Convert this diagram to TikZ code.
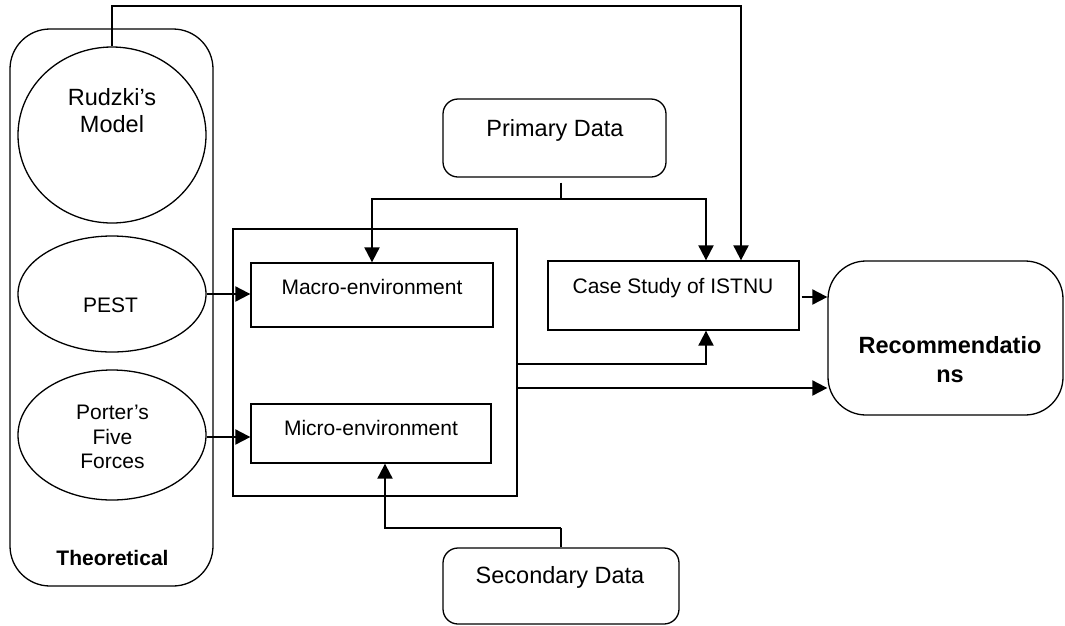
\documentclass[tikz,border=0pt]{standalone}
\usepackage{fontspec}
\setmainfont{Liberation Sans}
\usetikzlibrary{shapes.geometric,arrows.meta}
\begin{document}
\begin{tikzpicture}[x=1pt,y=-1pt,
  shp/.style={draw, line width=1.3pt, inner sep=0pt},
  rbox/.style={shp, rectangle},
  rrbox/.style={shp, rectangle, rounded corners=#1},
  ell/.style={shp, ellipse},
  txt/.style={font=\fontsize{21}{24.5}\selectfont, align=center, inner sep=0pt},
  bigtxt/.style={font=\fontsize{23.5}{27}\selectfont, align=center, inner sep=0pt},
  boldtxt/.style={font=\bfseries\fontsize{21}{29}\selectfont, align=center, inner sep=0pt},
  recomtxt/.style={font=\bfseries\fontsize{23.5}{29}\selectfont, align=center, inner sep=0pt},
  arr/.style={line width=2pt, -{Triangle[length=15pt,width=15pt]}},
  ln/.style={line width=1.3pt}]
\useasboundingbox (0,0) rectangle (1065,625);

% theoretical column
\node[rrbox=40pt, minimum width=203pt, minimum height=557pt] (theory) at (111.5,307.5) {};
\node[ell, minimum width=188pt, minimum height=176pt] (rudzki) at (112,135) {};
\node[ell, minimum width=188pt, minimum height=116pt] (pest) at (112,294) {};
\node[ell, minimum width=188pt, minimum height=130pt] (porter) at (112,435) {};
\node[bigtxt] (rudzkit) at (112,111) {Rudzki’s\\Model};
\node[txt, anchor=base] (pestt) at (110.5,312) {PEST};
\node[txt] (portert) at (112.5,437) {Porter’s\\Five\\Forces};
\node[boldtxt, anchor=base] (theoryt) at (112.5,565) {Theoretical};

% environment
\node[rbox, minimum width=284pt, minimum height=267pt] (env) at (375,362.5) {};
\node[rbox, minimum width=242pt, minimum height=64pt] (macro) at (372,295) {};
\node[rbox, minimum width=240pt, minimum height=59pt] (micro) at (371,433.5) {};
\node[txt, anchor=base] (macrot) at (372,294) {Macro-environment};
\node[txt, anchor=base] (microt) at (371,435) {Micro-environment};

% data sources
\node[rrbox=15pt, minimum width=223pt, minimum height=78pt] (primary) at (554.5,138) {};
\node[bigtxt, anchor=base] (primaryt) at (555,136) {Primary Data};
\node[rrbox=15pt, minimum width=236pt, minimum height=76pt] (secondary) at (561,586) {};
\node[bigtxt, anchor=base] (secondaryt) at (560,583) {Secondary Data};

% case study and recommendations
\node[rbox, minimum width=251pt, minimum height=69pt] (case) at (673.5,295.5) {};
\node[txt, anchor=base] (caset) at (673,293) {Case Study of ISTNU};
\node[rrbox=38pt, minimum width=235pt, minimum height=154pt] (recom) at (945.5,338) {};
\node[recomtxt] (recomt) at (950,360) {Recommendatio\\ns};

% connectors
\coordinate (topR) at (741,6);
\draw[arr] (rudzki.north) |- (topR) -- (topR |- case.north);

\coordinate (pj) at (561,199);
\draw[ln] ([yshift=-5pt]pj |- primary.south) -- (pj);
\draw[arr] (pj) -| (macro.north);
\draw[arr] (pj) -| ([xshift=32.5pt]case.north);

\draw[arr] (pest.east) -- (pest.east -| macro.west);
\draw[arr] ([yshift=-2pt]porter.east) -- ([yshift=-2pt]porter.east -| micro.west);

\draw[arr] ([yshift=-1.5pt]env.east) -| ([xshift=32.5pt]case.south);
\coordinate (e2) at ([yshift=-25.5pt]env.east);
\draw[arr] (e2) -- (e2 -| recom.west);
\draw[arr] ([xshift=2pt,yshift=-1.5pt]case.east) -- ([yshift=-1.5pt]case.east -| recom.west);

\coordinate (sj) at (561,528);
\draw[ln] (secondary.north) -- (sj);
\draw[arr] (sj) -| ([xshift=14pt]micro.south);
\end{tikzpicture}
\end{document}
